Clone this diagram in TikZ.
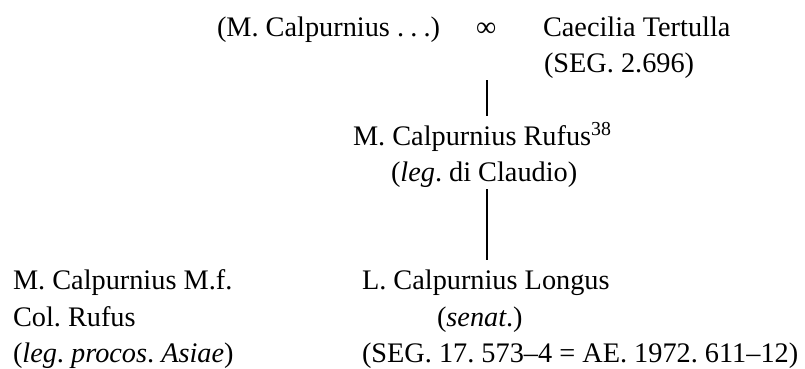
\documentclass[tikz,border=0pt]{standalone}
\usepackage{fontspec}
\setmainfont{Liberation Serif}
\frenchspacing
\begin{document}
\begin{tikzpicture}[x=1pt,y=-1pt,
  txt/.style={anchor=base west,inner sep=0pt,outer sep=0pt,font=\fontsize{28.3}{36}\selectfont\frenchspacing},
  link/.style={line width=2pt}]
\useasboundingbox (0,0) rectangle (805,369);
% top couple
\node[txt] (father) at (217,37) {(M. Calpurnius .\hspace{0.22em}.\hspace{0.22em}.)};
\node[txt] (marr) at (476,37) {∞};
\node[txt] (caec) at (543,37) {Caecilia Tertulla};
\node[txt] (caecref) at (544,73) {(SEG. 2.696)};
% son
\node[txt] (rufus) at (353,145) {M. Calpurnius Rufus\textsuperscript{38}};
\node[txt] (rufusref) at (391,181) {(\textit{leg}. di Claudio)};
% bottom left
\node[txt] (mf1) at (13,289) {M. Calpurnius M.f.};
\node[txt] (mf2) at (13,326) {Col. Rufus};
\node[txt] (mf3) at (13,362) {(\textit{leg}. \textit{procos}. \textit{Asiae})};
% bottom middle
\node[txt] (longus) at (362,289) {L. Calpurnius Longus};
\node[txt] (longus2) at (437,326) {(\textit{senat}.)};
\node[txt] (longus3) at (362,362) {(SEG. 17. 573–4 = AE. 1972. 611–12)};
% connectors
\coordinate (l1a) at (487,80);
\coordinate (l1b) at (487,116);
\coordinate (l2a) at (487,189);
\coordinate (l2b) at (487,260);
\draw[link] (l1a) -- (l1b);
\draw[link] (l2a) -- (l2b);
\end{tikzpicture}
\end{document}
